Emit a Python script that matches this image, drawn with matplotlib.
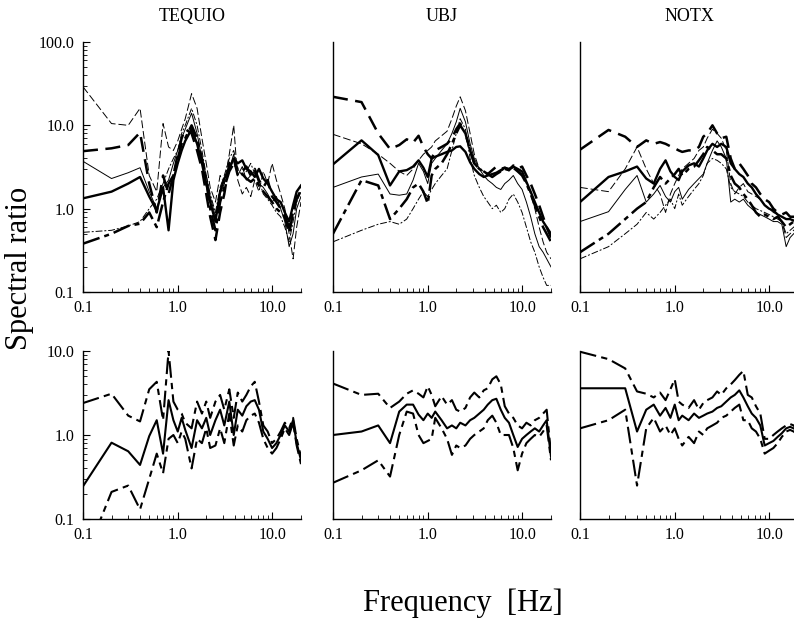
import numpy as np
import matplotlib
matplotlib.use('Agg')
import matplotlib.pyplot as plt
from matplotlib.ticker import LogLocator, FixedLocator, FixedFormatter, NullFormatter

plt.rcParams['font.family'] = ['Liberation Serif', 'DejaVu Serif']

FREQ = [0.1, 0.2, 0.3, 0.4, 0.5, 0.6, 0.7, 0.8, 0.9, 1.0,
        1.1, 1.2, 1.4, 1.6, 1.8, 2.0, 2.2, 2.5, 2.8, 3.1,
        3.5, 3.9, 4.3, 4.8, 5.3, 5.9, 6.5, 7.2, 8.0, 8.9,
        9.9, 11, 12.2, 13.5, 15, 16.5, 18, 20]

STATIONS = ['TEQUIO', 'UBJ', 'NOTX']

# top row: individual events
teq_a = [29, 10.5, 10, 16, 2.5, 1.6, 10.5, 5.5, 5, 6.5,
         9, 12, 24, 16, 7, 3.5, 1.8, 1.2, 2.5, 2.0,
         4.5, 10, 2.2, 1.5, 1.8, 1.4, 2.2, 1.6, 2.8, 2.0,
         3.5, 2.2, 1.5, 1.0, 0.5, 0.25, 0.6, 1.2]
teq_b = [4.9, 5.3, 5.8, 8.2, 2.0, 0.9, 2.5, 1.5, 2.5, 4.5,
         7, 9, 8, 5, 3, 1.5, 0.8, 0.42, 0.9, 1.5,
         3.5, 4, 2.5, 2.8, 3.2, 2.5, 3, 2.2, 1.8, 2.2,
         1.4, 1.2, 1.0, 0.8, 0.5, 0.9, 1.5, 1.8]
teq_c = [3.7, 2.3, 2.7, 3.1, 1.6, 1.0, 1.8, 2.2, 3.5, 5,
         7, 9, 14, 8, 4, 2.5, 1.4, 0.8, 1.5, 2,
         3, 4.5, 2.5, 3.2, 2.2, 2.5, 2.8, 2.0, 1.8, 1.5,
         1.2, 1.4, 1.0, 0.7, 0.35, 0.5, 1.0, 1.4]
teq_d = [1.33, 1.6, 2.0, 2.4, 1.4, 0.95, 1.8, 0.55, 2.2, 3.5,
         5, 6.5, 9, 6, 3.5, 2.0, 1.2, 0.7, 1.6, 2.3,
         3, 4, 3.5, 3.8, 3, 2.8, 2.4, 3, 2.3, 2.0,
         1.6, 1.3, 1.2, 0.9, 0.7, 1.1, 1.6, 1.9]
teq_e = [0.52, 0.55, 0.62, 0.7, 1.0, 1.3, 2, 3, 4, 5,
         8, 10, 16, 10, 5, 2.5, 1.5, 0.9, 1.8, 2.5,
         4, 5, 3, 2.5, 2.8, 3.5, 2.6, 2.2, 1.5, 1.3,
         1.1, 0.9, 0.8, 0.6, 0.4, 0.7, 1.2, 1.6]
teq_f = [0.38, 0.5, 0.62, 0.66, 0.9, 0.6, 1.2, 2, 2.5, 4,
         6, 7, 10, 7, 4, 2.2, 1.0, 0.55, 1.2, 1.8,
         2.8, 3.5, 3, 2.6, 2.3, 2.1, 2.3, 1.9, 1.6, 1.4,
         1.2, 1.0, 0.9, 0.8, 0.6, 0.9, 1.3, 1.7]

ubj_a = [22, 19, 8, 5.2, 5.8, 6.8, 6.2, 7.5, 5.5, 4.5,
         4.0, 5.0, 5.5, 6.0, 7.0, 9.0, 10.5, 8, 5, 3.5,
         3.0, 2.8, 2.6, 2.9, 3.2, 3.0, 3.1, 2.9, 3.3, 3.0,
         3.2, 2.5, 2.0, 1.5, 1.1, 0.8, 0.6, 0.45]
ubj_b = [7.8, 6, 4.5, 3.5, 2.8, 2.5, 3.0, 3.8, 4.5, 5.0,
         5.5, 6.5, 7.5, 8.5, 12, 17, 22, 15, 8, 4.5,
         3, 2.8, 2.5, 2.6, 2.7, 2.8, 3.0, 2.9, 3.1, 3.0,
         2.6, 2.0, 1.5, 1.0, 0.6, 0.4, 0.3, 0.25]
ubj_c = [3.4, 6.6, 4.4, 1.9, 2.8, 2.9, 3.2, 3.8, 3.1, 2.4,
         4.0, 4.2, 4.5, 4.8, 5.0, 5.5, 5.6, 4.8, 3.6, 3.0,
         2.6, 2.4, 2.5, 2.6, 2.7, 2.9, 3.1, 3.0, 3.2, 3.0,
         2.8, 2.1, 1.6, 1.2, 0.9, 0.7, 0.6, 0.5]
ubj_d = [1.8, 2.4, 2.6, 1.5, 1.45, 1.5, 2.2, 3.5, 2.8, 2.0,
         3.5, 4, 5, 6, 8, 11, 16, 11, 6, 4,
         3.0, 2.5, 2.2, 2.0, 1.8, 1.7, 2.0, 2.2, 2.5, 2.0,
         1.7, 1.2, 0.8, 0.5, 0.35, 0.3, 0.25, 0.2]
ubj_e = [0.5, 2.2, 1.9, 0.75, 1.0, 1.3, 1.8, 2.0, 1.6, 1.15,
         2.5, 3, 3.5, 4.5, 6, 8, 10, 8, 5, 3.5,
         3, 2.8, 2.6, 2.4, 2.6, 2.8, 3.0, 2.9, 3.1, 2.8,
         2.5, 2.0, 1.5, 1.1, 0.8, 0.6, 0.5, 0.4]
ubj_f = [0.4, 0.55, 0.65, 0.7, 0.65, 0.75, 1.0, 1.3, 1.6, 1.4,
         1.7, 2.0, 2.5, 3, 5, 8, 12, 9, 4, 2.5,
         1.8, 1.4, 1.2, 1.0, 1.1, 0.9, 1.0, 1.3, 1.5, 1.2,
         0.9, 0.6, 0.4, 0.3, 0.2, 0.15, 0.12, 0.12]

notx_a = [5.1, 8.8, 7.3, 5.5, 6.6, 6.0, 6.3, 6.0, 5.6, 5.3,
          5.0, 4.8, 5.0, 5.0, 5.5, 7.3, 8.0, 10, 8, 7,
          7.3, 4, 3, 3.5, 3, 2.5, 2.0, 1.8, 1.5, 1.3,
          1.2, 1.0, 0.9, 0.85, 0.9, 0.8, 0.8, 0.75]
notx_b = [1.8, 1.6, 3, 5.5, 3, 2.0, 1.5, 0.9, 1.5, 2.0,
          2.5, 3.0, 3.5, 4.0, 5, 5.5, 7, 9, 8, 7,
          5, 2, 1.5, 1.8, 2.0, 1.6, 1.5, 1.4, 1.3, 1.1,
          1.0, 0.9, 0.85, 0.7, 0.45, 0.5, 0.55, 0.6]
notx_c = [1.2, 2.4, 2.8, 3.2, 2.3, 2.0, 3.0, 3.8, 2.8, 2.4,
          2.2, 2.8, 3.3, 3.5, 3.2, 4.0, 5.0, 6.0, 5.5, 6.0,
          5.5, 3.5, 3.0, 2.6, 2.4, 2.0, 1.8, 1.5, 1.3, 1.1,
          1.0, 0.95, 0.85, 0.8, 0.75, 0.75, 0.72, 0.7]
notx_d = [0.7, 0.92, 1.7, 2.5, 1.2, 1.5, 1.9, 1.4, 1.2, 1.6,
          1.8, 1.3, 1.7, 2.0, 2.3, 2.6, 3.5, 5, 6.5, 5.5,
          4, 1.2, 1.3, 1.2, 1.3, 1.1, 1.0, 0.9, 0.85, 0.8,
          0.75, 0.7, 0.7, 0.65, 0.35, 0.45, 0.5, 0.55]
notx_e = [0.3, 0.5, 0.75, 1.0, 1.2, 1.8, 2.4, 2.0, 2.3, 2.6,
          3, 2.5, 3, 3.2, 3.8, 4.5, 5.5, 5, 4.5, 4.5,
          4, 2.5, 2.0, 1.8, 1.5, 1.3, 1.1, 0.9, 0.8, 0.85,
          0.8, 0.75, 0.8, 0.7, 0.6, 0.65, 0.7, 0.65]
notx_f = [0.25, 0.35, 0.5, 0.65, 0.9, 0.75, 0.9, 1.1, 1.3, 1.0,
          1.5, 1.1, 1.4, 1.7, 2.0, 2.5, 3.5, 4.0, 3.8, 3.5,
          3.0, 1.8, 1.6, 1.5, 1.4, 1.2, 1.1, 1.0, 0.95, 0.9,
          0.85, 0.8, 0.75, 0.7, 0.5, 0.55, 0.6, 0.65]

# bottom row: mean and +/- one sigma
teq_up = [2.4, 3.1, 1.7, 1.45, 3.5, 4.3, 1.5, 10, 2.5, 2.0,
          1.8, 1.4, 1.2, 2.5, 1.8, 2.5, 1.6, 2.5, 3.0, 2.0,
          3.5, 1.6, 3.2, 2.5, 3.0, 3.8, 4.3, 2.5, 1.3, 1.1,
          0.8, 0.9, 1.1, 1.4, 1.2, 1.6, 0.9, 0.55]
teq_mid = [0.245, 0.81, 0.64, 0.44, 0.97, 1.5, 0.6, 2.6, 1.5, 1.1,
           1.6, 1.15, 0.7, 1.5, 1.2, 1.6, 1.0, 1.5, 2.0, 1.3,
           2.5, 1.0, 2.0, 1.7, 2.2, 2.5, 2.6, 2.0, 1.1, 0.9,
           0.7, 0.8, 1.0, 1.3, 1.1, 1.5, 0.8, 0.5]
teq_lo = [0.03, 0.21, 0.25, 0.13, 0.3, 0.6, 0.35, 0.9, 1.0, 0.8,
          1.1, 0.9, 0.4, 0.9, 0.8, 1.2, 0.7, 0.75, 1.2, 0.8,
          1.8, 0.75, 1.3, 1.1, 1.5, 1.7, 1.8, 1.4, 0.9, 0.7,
          0.6, 0.7, 0.9, 1.2, 1.0, 1.4, 0.75, 0.45]

ubj_up = [4.1, 3.0, 3.1, 2.1, 2.5, 3.1, 3.4, 3.1, 2.8, 3.8,
          3.0, 2.2, 2.9, 2.3, 2.6, 2.0, 1.9, 2.1, 2.8, 3.2,
          2.8, 3.4, 3.6, 4.6, 5.0, 4.0, 2.2, 1.8, 1.6, 1.3,
          1.2, 1.4, 1.3, 1.5, 1.6, 1.8, 2.0, 0.6]
ubj_mid = [1.0, 1.1, 1.3, 0.8, 1.9, 2.3, 2.3, 1.75, 1.5, 1.8,
           1.6, 1.9, 1.5, 1.2, 1.3, 1.2, 1.4, 1.3, 1.5, 1.6,
           1.8, 2.0, 2.3, 2.6, 2.7, 2.0, 1.6, 1.4, 1.0, 0.72,
           0.9, 1.0, 1.1, 1.2, 1.1, 1.3, 1.5, 0.55]
ubj_lo = [0.27, 0.38, 0.5, 0.32, 1.0, 1.9, 1.8, 1.0, 0.8, 0.85,
          0.9, 1.6, 1.2, 0.9, 0.58, 0.75, 0.7, 0.75, 0.9, 1.0,
          1.1, 1.2, 1.5, 1.7, 1.4, 1.0, 1.0, 1.0, 0.7, 0.38,
          0.6, 0.8, 0.9, 1.0, 0.95, 1.1, 1.3, 0.5]

notx_up = [9.8, 8.0, 6.2, 3.3, 3.1, 2.8, 3.2, 2.6, 3.5, 4.6,
           2.5, 2.3, 2.1, 2.6, 2.0, 2.4, 2.6, 2.8, 3.3, 3.0,
           3.6, 4.0, 4.5, 5.2, 5.8, 3.0, 2.8, 2.2, 1.8, 0.9,
           0.9, 1.0, 1.1, 1.2, 1.3, 1.35, 1.3, 1.1]
notx_mid = [3.6, 3.6, 3.6, 1.1, 2.0, 2.3, 1.7, 2.1, 1.6, 2.3,
            1.5, 1.7, 1.5, 1.8, 1.6, 1.7, 1.8, 1.9, 2.1, 2.2,
            2.5, 2.8, 3.0, 3.4, 2.8, 2.2, 1.8, 1.6, 1.3, 0.75,
            0.8, 0.85, 0.95, 1.05, 1.2, 1.25, 1.2, 1.1]
notx_lo = [1.2, 1.5, 2.0, 0.25, 1.2, 1.6, 1.1, 1.3, 1.0, 1.2,
           0.9, 0.75, 0.95, 0.8, 1.1, 1.0, 1.2, 1.3, 1.4, 1.6,
           1.7, 1.9, 2.1, 2.3, 1.5, 1.5, 1.2, 1.1, 0.9, 0.6,
           0.65, 0.7, 0.8, 0.95, 1.1, 1.15, 1.1, 1.0]

STY = {
    'thick_solid': dict(lw=1.7, ls='-'),
    'thin_solid': dict(lw=0.7, ls='-'),
    'thick_dash': dict(lw=1.8, ls=(0, (6, 3))),
    'thin_dash': dict(lw=0.7, ls=(0, (8, 3))),
    'thick_dashdot': dict(lw=1.8, ls=(0, (7, 2, 2, 2))),
    'thin_dashdot': dict(lw=0.7, ls=(0, (7, 2, 2, 2))),
}
top_styles = {
    'TEQUIO': ['thin_dash', 'thick_dash', 'thin_solid', 'thick_solid', 'thin_dashdot', 'thick_dashdot'],
    'UBJ': ['thick_dash', 'thin_dash', 'thick_solid', 'thin_solid', 'thick_dashdot', 'thin_dashdot'],
    'NOTX': ['thick_dash', 'thin_dash', 'thick_solid', 'thin_solid', 'thick_dashdot', 'thin_dashdot'],
}
top_data = {
    'TEQUIO': [teq_a, teq_b, teq_c, teq_d, teq_e, teq_f],
    'UBJ': [ubj_a, ubj_b, ubj_c, ubj_d, ubj_e, ubj_f],
    'NOTX': [notx_a, notx_b, notx_c, notx_d, notx_e, notx_f],
}
bot_data = {
    'TEQUIO': (teq_up, teq_mid, teq_lo),
    'UBJ': (ubj_up, ubj_mid, ubj_lo),
    'NOTX': (notx_up, notx_mid, notx_lo),
}

W, H = 794, 626
fig = plt.figure(figsize=(W / 100, H / 100), dpi=100)

lefts = [83, 333, 580]
pw = 218


def px_axes(x0, y0, w, h):
    return fig.add_axes([x0 / W, 1 - (y0 + h) / H, w / W, h / H])


def style_axes(ax, ymax, show_y):
    ax.set_xscale('log')
    ax.set_yscale('log')
    ax.set_xlim(0.1, 20)
    ax.set_ylim(0.1, ymax)
    for s in ['top', 'right']:
        ax.spines[s].set_visible(False)
    for s in ['left', 'bottom']:
        ax.spines[s].set_linewidth(1.0)
    ax.xaxis.set_major_locator(FixedLocator([0.1, 1, 10]))
    ax.xaxis.set_major_formatter(FixedFormatter(['0.1', '1.0', '10.0']))
    ax.xaxis.set_minor_locator(LogLocator(subs=np.arange(2, 10)))
    ax.xaxis.set_minor_formatter(NullFormatter())
    yt = [0.1, 1, 10, 100][:int(round(np.log10(ymax))) + 2]
    ax.yaxis.set_major_locator(FixedLocator(yt))
    ax.yaxis.set_major_formatter(FixedFormatter(['0.1', '1.0', '10.0', '100.0'][:len(yt)]))
    ax.yaxis.set_minor_locator(LogLocator(subs=np.arange(2, 10)))
    ax.yaxis.set_minor_formatter(NullFormatter())
    ax.tick_params(which='both', direction='in', labelsize=11.5, pad=6)
    ax.tick_params(which='major', length=5, width=0.8)
    ax.tick_params(which='minor', length=3, width=0.6)
    if not show_y:
        ax.tick_params(axis='y', which='both', length=0, labelleft=False)


for i, st in enumerate(STATIONS):
    ax = px_axes(lefts[i], 42, pw, 250)
    for vals, sname in zip(top_data[st], top_styles[st]):
        ax.plot(FREQ, vals, color='k', **STY[sname])
    style_axes(ax, 100, i == 0)
    ax.text(0.5, 1 + 26 / 250, st, transform=ax.transAxes,
            ha='center', va='center', fontsize=13)

    axb = px_axes(lefts[i], 351, pw, 168)
    up, mid, lo = bot_data[st]
    axb.plot(FREQ, up, color='k', lw=1.5, ls=(0, (8, 2.5, 3, 2.5)))
    axb.plot(FREQ, mid, color='k', lw=1.5, ls='-')
    axb.plot(FREQ, lo, color='k', lw=1.5, ls=(0, (8, 2.5, 3, 2.5)))
    style_axes(axb, 10, i == 0)

fig.text(20 / W, 1 - 268 / H, 'Spectral ratio', rotation=90,
         ha='center', va='center', fontsize=22)
fig.text(463 / W, 1 - 603 / H, 'Frequency  [Hz]',
         ha='center', va='center', fontsize=22)

plt.savefig('out.png', dpi=100)
plt.close(fig)
